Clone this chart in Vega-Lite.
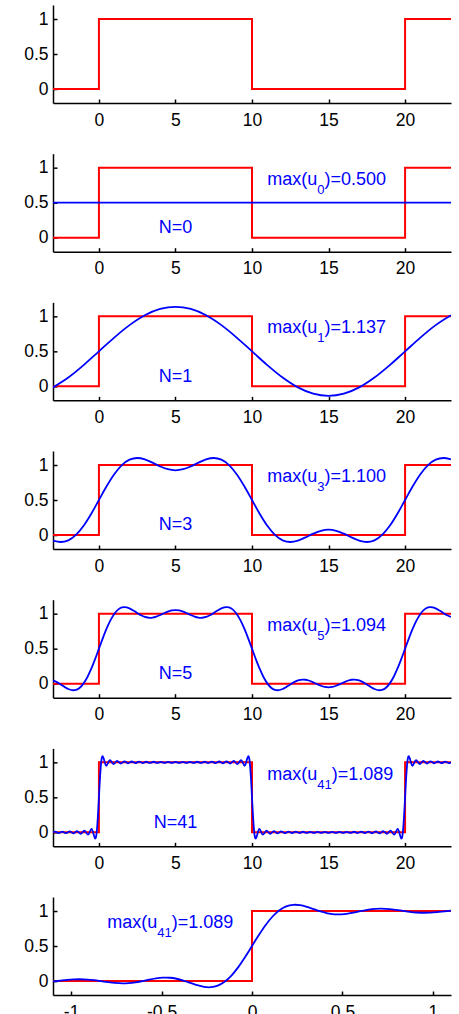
{
 "$schema": "https://vega.github.io/schema/vega-lite/v6.json",
 "padding": {"left": 23, "top": 5, "right": 5, "bottom": 0},
 "background": "white",
 "spacing": 50.67,
 "bounds": "flush",
 "resolve": {"scale": {"x": "independent", "y": "independent"}, "axis": {"x": "independent", "y": "independent"}},
 "config": {
  "view": {"stroke": null},
  "axis": {"grid": false, "title": null, "domainColor": "black", "domainWidth": 1.5, "tickColor": "black", "tickWidth": 1.5, "tickSize": -4, "labelColor": "black", "labelFont": "Liberation Sans", "labelFontSize": 17.5, "labelFlush": false, "labelOverlap": false, "labelBound": false},
  "axisX": {"labelPadding": 12},
  "axisY": {"labelPadding": 9},
  "text": {"font": "Liberation Sans", "color": "#0000ff"}
 },
 "datasets": {
  "sq": [{"x":-3,"y":0,"i":0},{"x":0,"y":0,"i":1},{"x":0,"y":1,"i":2},{"x":10,"y":1,"i":3},{"x":10,"y":0,"i":4},{"x":20,"y":0,"i":5},{"x":20,"y":1,"i":6},{"x":23,"y":1,"i":7}],
  "sqz": [{"x":-1.1,"y":0,"i":0},{"x":0,"y":0,"i":1},{"x":0,"y":1,"i":2},{"x":1.1,"y":1,"i":3}],
  "u0": [{"x":-3,"y":0.5},{"x":23,"y":0.5}],
  "u1": [{"x":-3,"y":-0.0150},{"x":-2,"y":0.1258},{"x":-1,"y":0.3033},{"x":0,"y":0.5},{"x":1,"y":0.6967},{"x":2,"y":0.8742},{"x":3,"y":1.0150},{"x":4,"y":1.1055},{"x":5,"y":1.1366},{"x":6,"y":1.1055},{"x":7,"y":1.0150},{"x":8,"y":0.8742},{"x":9,"y":0.6967},{"x":10,"y":0.5},{"x":11,"y":0.3033},{"x":12,"y":0.1258},{"x":13,"y":-0.0150},{"x":14,"y":-0.1055},{"x":15,"y":-0.1366},{"x":16,"y":-0.1055},{"x":17,"y":-0.0150},{"x":18,"y":0.1258},{"x":19,"y":0.3033},{"x":20,"y":0.5},{"x":21,"y":0.6967},{"x":22,"y":0.8742},{"x":23,"y":1.0150}],
  "u3": [{"x":-3,"y":-0.0806},{"x":-2.5,"y":-0.1002},{"x":-2,"y":-0.0760},{"x":-1.5,"y":0.0014},{"x":-1,"y":0.1316},{"x":-0.5,"y":0.3041},{"x":0,"y":0.5},{"x":0.5,"y":0.6959},{"x":1,"y":0.8684},{"x":1.5,"y":0.9986},{"x":2,"y":1.0760},{"x":2.5,"y":1.1002},{"x":3,"y":1.0806},{"x":3.5,"y":1.0340},{"x":4,"y":0.9807},{"x":4.5,"y":0.9397},{"x":5,"y":0.9244},{"x":5.5,"y":0.9397},{"x":6,"y":0.9807},{"x":6.5,"y":1.0340},{"x":7,"y":1.0806},{"x":7.5,"y":1.1002},{"x":8,"y":1.0760},{"x":8.5,"y":0.9986},{"x":9,"y":0.8684},{"x":9.5,"y":0.6959},{"x":10,"y":0.5},{"x":10.5,"y":0.3041},{"x":11,"y":0.1316},{"x":11.5,"y":0.0014},{"x":12,"y":-0.0760},{"x":12.5,"y":-0.1002},{"x":13,"y":-0.0806},{"x":13.5,"y":-0.0340},{"x":14,"y":0.0193},{"x":14.5,"y":0.0603},{"x":15,"y":0.0756},{"x":15.5,"y":0.0603},{"x":16,"y":0.0193},{"x":16.5,"y":-0.0340},{"x":17,"y":-0.0806},{"x":17.5,"y":-0.1002},{"x":18,"y":-0.0760},{"x":18.5,"y":0.0014},{"x":19,"y":0.1316},{"x":19.5,"y":0.3041},{"x":20,"y":0.5},{"x":20.5,"y":0.6959},{"x":21,"y":0.8684},{"x":21.5,"y":0.9986},{"x":22,"y":1.0760},{"x":22.5,"y":1.1002},{"x":23,"y":1.0806}],
  "u5": [{"x":-3,"y":0.0467},{"x":-2.75,"y":0.0227},{"x":-2.5,"y":-0.0102},{"x":-2.25,"y":-0.0457},{"x":-2,"y":-0.0760},{"x":-1.6667,"y":-0.0942},{"x":-1.5,"y":-0.0886},{"x":-1.25,"y":-0.0573},{"x":-1,"y":0.0043},{"x":-0.75,"y":0.0959},{"x":-0.5,"y":0.2140},{"x":-0.25,"y":0.3518},{"x":0,"y":0.5},{"x":0.25,"y":0.6482},{"x":0.5,"y":0.7860},{"x":0.75,"y":0.9041},{"x":1,"y":0.9957},{"x":1.25,"y":1.0573},{"x":1.5,"y":1.0886},{"x":1.6667,"y":1.0942},{"x":2,"y":1.0760},{"x":2.25,"y":1.0457},{"x":2.5,"y":1.0102},{"x":2.75,"y":0.9773},{"x":3,"y":0.9533},{"x":3.3333,"y":0.9411},{"x":3.5,"y":0.9440},{"x":3.75,"y":0.9582},{"x":4,"y":0.9807},{"x":4.25,"y":1.0064},{"x":4.5,"y":1.0297},{"x":4.75,"y":1.0460},{"x":5,"y":1.0517},{"x":5.25,"y":1.0460},{"x":5.5,"y":1.0297},{"x":5.75,"y":1.0064},{"x":6,"y":0.9807},{"x":6.25,"y":0.9582},{"x":6.5,"y":0.9440},{"x":6.6667,"y":0.9411},{"x":7,"y":0.9533},{"x":7.25,"y":0.9773},{"x":7.5,"y":1.0102},{"x":7.75,"y":1.0457},{"x":8,"y":1.0760},{"x":8.3333,"y":1.0942},{"x":8.5,"y":1.0886},{"x":8.75,"y":1.0573},{"x":9,"y":0.9957},{"x":9.25,"y":0.9041},{"x":9.5,"y":0.7860},{"x":9.75,"y":0.6482},{"x":10,"y":0.5},{"x":10.25,"y":0.3518},{"x":10.5,"y":0.2140},{"x":10.75,"y":0.0959},{"x":11,"y":0.0043},{"x":11.25,"y":-0.0573},{"x":11.5,"y":-0.0886},{"x":11.6667,"y":-0.0942},{"x":12,"y":-0.0760},{"x":12.25,"y":-0.0457},{"x":12.5,"y":-0.0102},{"x":12.75,"y":0.0227},{"x":13,"y":0.0467},{"x":13.3333,"y":0.0589},{"x":13.5,"y":0.0560},{"x":13.75,"y":0.0418},{"x":14,"y":0.0193},{"x":14.25,"y":-0.0064},{"x":14.5,"y":-0.0297},{"x":14.75,"y":-0.0460},{"x":15,"y":-0.0517},{"x":15.25,"y":-0.0460},{"x":15.5,"y":-0.0297},{"x":15.75,"y":-0.0064},{"x":16,"y":0.0193},{"x":16.25,"y":0.0418},{"x":16.5,"y":0.0560},{"x":16.6667,"y":0.0589},{"x":17,"y":0.0467},{"x":17.25,"y":0.0227},{"x":17.5,"y":-0.0102},{"x":17.75,"y":-0.0457},{"x":18,"y":-0.0760},{"x":18.3333,"y":-0.0942},{"x":18.5,"y":-0.0886},{"x":18.75,"y":-0.0573},{"x":19,"y":0.0043},{"x":19.25,"y":0.0959},{"x":19.5,"y":0.2140},{"x":19.75,"y":0.3518},{"x":20,"y":0.5},{"x":20.25,"y":0.6482},{"x":20.5,"y":0.7860},{"x":20.75,"y":0.9041},{"x":21,"y":0.9957},{"x":21.25,"y":1.0573},{"x":21.5,"y":1.0886},{"x":21.6667,"y":1.0942},{"x":22,"y":1.0760},{"x":22.25,"y":1.0457},{"x":22.5,"y":1.0102},{"x":22.75,"y":0.9773},{"x":23,"y":0.9533}],
  "u41": [{"x":-3.0952,"y":-0.0092},{"x":-2.8571,"y":0.0097},{"x":-2.6190,"y":-0.0103},{"x":-2.3810,"y":0.0111},{"x":-2.1429,"y":-0.0122},{"x":-1.9048,"y":0.0134},{"x":-1.6667,"y":-0.0152},{"x":-1.4286,"y":0.0168},{"x":-1.1905,"y":-0.0201},{"x":-0.9524,"y":0.0250},{"x":-0.7143,"y":-0.0331},{"x":-0.4762,"y":0.0486},{"x":-0.2381,"y":-0.0895},{"x":-0.1895,"y":-0.0661},{"x":-0.1516,"y":-0.0110},{"x":-0.1137,"y":0.0783},{"x":-0.0758,"y":0.1988},{"x":-0.0379,"y":0.3430},{"x":0,"y":0.5},{"x":0.0379,"y":0.6570},{"x":0.0758,"y":0.8012},{"x":0.1137,"y":0.9217},{"x":0.1516,"y":1.0110},{"x":0.1895,"y":1.0661},{"x":0.2381,"y":1.0895},{"x":0.4762,"y":0.9514},{"x":0.7143,"y":1.0331},{"x":0.9524,"y":0.9750},{"x":1.1905,"y":1.0201},{"x":1.4286,"y":0.9832},{"x":1.6667,"y":1.0152},{"x":1.9048,"y":0.9866},{"x":2.1429,"y":1.0122},{"x":2.3810,"y":0.9889},{"x":2.6190,"y":1.0103},{"x":2.8571,"y":0.9903},{"x":3.0952,"y":1.0092},{"x":3.3333,"y":0.9913},{"x":3.5714,"y":1.0084},{"x":3.8095,"y":0.9919},{"x":4.0476,"y":1.0079},{"x":4.2857,"y":0.9922},{"x":4.5238,"y":1.0077},{"x":4.7619,"y":0.9924},{"x":5.0,"y":1.0076},{"x":5.2381,"y":0.9924},{"x":5.4762,"y":1.0077},{"x":5.7143,"y":0.9922},{"x":5.9524,"y":1.0079},{"x":6.1905,"y":0.9919},{"x":6.4286,"y":1.0084},{"x":6.6667,"y":0.9913},{"x":6.9048,"y":1.0092},{"x":7.1429,"y":0.9903},{"x":7.3810,"y":1.0103},{"x":7.6190,"y":0.9889},{"x":7.8571,"y":1.0122},{"x":8.0952,"y":0.9866},{"x":8.3333,"y":1.0152},{"x":8.5714,"y":0.9832},{"x":8.8095,"y":1.0201},{"x":9.0476,"y":0.9750},{"x":9.2857,"y":1.0331},{"x":9.5238,"y":0.9514},{"x":9.7619,"y":1.0895},{"x":9.8105,"y":1.0661},{"x":9.8484,"y":1.0110},{"x":9.8863,"y":0.9217},{"x":9.9242,"y":0.8012},{"x":9.9621,"y":0.6570},{"x":10,"y":0.5},{"x":10.0379,"y":0.3430},{"x":10.0758,"y":0.1988},{"x":10.1137,"y":0.0783},{"x":10.1516,"y":-0.0110},{"x":10.1895,"y":-0.0661},{"x":10.2381,"y":-0.0895},{"x":10.4762,"y":0.0486},{"x":10.7143,"y":-0.0331},{"x":10.9524,"y":0.0250},{"x":11.1905,"y":-0.0201},{"x":11.4286,"y":0.0168},{"x":11.6667,"y":-0.0152},{"x":11.9048,"y":0.0134},{"x":12.1429,"y":-0.0122},{"x":12.3810,"y":0.0111},{"x":12.6190,"y":-0.0103},{"x":12.8571,"y":0.0097},{"x":13.0952,"y":-0.0092},{"x":13.3333,"y":0.0087},{"x":13.5714,"y":-0.0084},{"x":13.8095,"y":0.0081},{"x":14.0476,"y":-0.0079},{"x":14.2857,"y":0.0078},{"x":14.5238,"y":-0.0077},{"x":14.7619,"y":0.0076},{"x":15.0,"y":-0.0076},{"x":15.2381,"y":0.0076},{"x":15.4762,"y":-0.0077},{"x":15.7143,"y":0.0078},{"x":15.9524,"y":-0.0079},{"x":16.1905,"y":0.0081},{"x":16.4286,"y":-0.0084},{"x":16.6667,"y":0.0087},{"x":16.9048,"y":-0.0092},{"x":17.1429,"y":0.0097},{"x":17.3810,"y":-0.0103},{"x":17.6190,"y":0.0111},{"x":17.8571,"y":-0.0122},{"x":18.0952,"y":0.0134},{"x":18.3333,"y":-0.0152},{"x":18.5714,"y":0.0168},{"x":18.8095,"y":-0.0201},{"x":19.0476,"y":0.0250},{"x":19.2857,"y":-0.0331},{"x":19.5238,"y":0.0486},{"x":19.7619,"y":-0.0895},{"x":19.8105,"y":-0.0661},{"x":19.8484,"y":-0.0110},{"x":19.8863,"y":0.0783},{"x":19.9242,"y":0.1988},{"x":19.9621,"y":0.3430},{"x":20,"y":0.5},{"x":20.0379,"y":0.6570},{"x":20.0758,"y":0.8012},{"x":20.1137,"y":0.9217},{"x":20.1516,"y":1.0110},{"x":20.1895,"y":1.0661},{"x":20.2381,"y":1.0895},{"x":20.4762,"y":0.9514},{"x":20.7143,"y":1.0331},{"x":20.9524,"y":0.9750},{"x":21.1905,"y":1.0201},{"x":21.4286,"y":0.9832},{"x":21.6667,"y":1.0152},{"x":21.9048,"y":0.9866},{"x":22.1429,"y":1.0122},{"x":22.3810,"y":0.9889},{"x":22.6190,"y":1.0103},{"x":22.8571,"y":0.9903},{"x":23.0952,"y":1.0092}],
  "u41z": [{"x":-1.1368,"y":-0.0151},{"x":-1.0989,"y":-0.0063},{"x":-1.0610,"y":0.0046},{"x":-1.0231,"y":0.0152},{"x":-0.9852,"y":0.0227},{"x":-0.9524,"y":0.0250},{"x":-0.9094,"y":0.0209},{"x":-0.8716,"y":0.0114},{"x":-0.8337,"y":-0.0024},{"x":-0.7958,"y":-0.0166},{"x":-0.7579,"y":-0.0279},{"x":-0.7143,"y":-0.0331},{"x":-0.6821,"y":-0.0300},{"x":-0.6442,"y":-0.0187},{"x":-0.6063,"y":-0.0011},{"x":-0.5684,"y":0.0190},{"x":-0.5305,"y":0.0370},{"x":-0.4926,"y":0.0474},{"x":-0.4762,"y":0.0486},{"x":-0.4547,"y":0.0465},{"x":-0.4168,"y":0.0325},{"x":-0.3789,"y":0.0066},{"x":-0.3410,"y":-0.0265},{"x":-0.3032,"y":-0.0597},{"x":-0.2653,"y":-0.0835},{"x":-0.2381,"y":-0.0895},{"x":-0.2274,"y":-0.0884},{"x":-0.1895,"y":-0.0661},{"x":-0.1516,"y":-0.0110},{"x":-0.1137,"y":0.0783},{"x":-0.0758,"y":0.1988},{"x":-0.0379,"y":0.3430},{"x":0,"y":0.5},{"x":0.0379,"y":0.6570},{"x":0.0758,"y":0.8012},{"x":0.1137,"y":0.9217},{"x":0.1516,"y":1.0110},{"x":0.1895,"y":1.0661},{"x":0.2274,"y":1.0884},{"x":0.2381,"y":1.0895},{"x":0.2653,"y":1.0835},{"x":0.3032,"y":1.0597},{"x":0.3410,"y":1.0265},{"x":0.3789,"y":0.9934},{"x":0.4168,"y":0.9675},{"x":0.4547,"y":0.9535},{"x":0.4762,"y":0.9514},{"x":0.4926,"y":0.9526},{"x":0.5305,"y":0.9630},{"x":0.5684,"y":0.9810},{"x":0.6063,"y":1.0011},{"x":0.6442,"y":1.0187},{"x":0.6821,"y":1.0300},{"x":0.7143,"y":1.0331},{"x":0.7579,"y":1.0279},{"x":0.7958,"y":1.0166},{"x":0.8337,"y":1.0024},{"x":0.8716,"y":0.9886},{"x":0.9094,"y":0.9791},{"x":0.9524,"y":0.9750},{"x":0.9852,"y":0.9773},{"x":1.0231,"y":0.9848},{"x":1.0610,"y":0.9954},{"x":1.0989,"y":1.0063},{"x":1.1368,"y":1.0151}],
  "ann": [{"p":2,"x":11,"y":0.755,"pre":"max(u","sub":"0","post":")=0.500"},{"p":3,"x":11,"y":0.755,"pre":"max(u","sub":"1","post":")=1.137"},{"p":4,"x":11,"y":0.755,"pre":"max(u","sub":"3","post":")=1.100"},{"p":5,"x":11,"y":0.755,"pre":"max(u","sub":"5","post":")=1.094"},{"p":6,"x":11,"y":0.755,"pre":"max(u","sub":"41","post":")=1.089"},{"p":7,"x":-0.8,"y":0.755,"pre":"max(u","sub":"41","post":")=1.089"}],
  "nlab": [{"p":2,"x":5,"y":0.065,"t":"N=0"},{"p":3,"x":5,"y":0.065,"t":"N=1"},{"p":4,"x":5,"y":0.065,"t":"N=3"},{"p":5,"x":5,"y":0.065,"t":"N=5"},{"p":6,"x":5,"y":0.065,"t":"N=41"}]
 },
 "vconcat": [
  {"width": 398, "height": 98,
   "encoding": {"x": {"field":"x","type":"quantitative","scale":{"domain":[-3,23],"nice":false,"zero":false},"axis":{"values":[0,5,10,15,20],"labelExpr":"toString(datum.value)"}},
                "y": {"field":"y","type":"quantitative","scale":{"domain":[-0.2,1.2],"nice":false,"zero":false},"axis":{"values":[0,0.5,1],"labelExpr":"toString(datum.value)"}}},
   "layer": [
    {"data":{"name":"sq"},"mark":{"type":"line","color":"#ff0000","strokeWidth":2,"clip":true},"encoding":{"order":{"field":"i","type":"quantitative"}}}
   ]},
  {"width": 398, "height": 98,
   "encoding": {"x": {"field":"x","type":"quantitative","scale":{"domain":[-3,23],"nice":false,"zero":false},"axis":{"values":[0,5,10,15,20],"labelExpr":"toString(datum.value)"}},
                "y": {"field":"y","type":"quantitative","scale":{"domain":[-0.2,1.2],"nice":false,"zero":false},"axis":{"values":[0,0.5,1],"labelExpr":"toString(datum.value)"}}},
   "layer": [
    {"data":{"name":"sq"},"mark":{"type":"line","color":"#ff0000","strokeWidth":2,"clip":true},"encoding":{"order":{"field":"i","type":"quantitative"}}},
    {"data":{"name":"u0"},"mark":{"type":"line","color":"#0000ff","strokeWidth":1.8,"clip":true}},
    {"data":{"name":"ann"},"transform":[{"filter":"datum.p==2"}],"mark":{"type":"text","align":"left","baseline":"alphabetic","fontSize":18},"encoding":{"text":{"field":"pre"}}},
    {"data":{"name":"ann"},"transform":[{"filter":"datum.p==2"}],"mark":{"type":"text","align":"left","baseline":"alphabetic","fontSize":13,"dx":50,"dy":9},"encoding":{"text":{"field":"sub"}}},
    {"data":{"name":"ann"},"transform":[{"filter":"datum.p==2"}],"mark":{"type":"text","align":"left","baseline":"alphabetic","fontSize":18,"dx":57.2},"encoding":{"text":{"field":"post"}}},
    {"data":{"name":"nlab"},"transform":[{"filter":"datum.p==2"}],"mark":{"type":"text","align":"center","baseline":"alphabetic","fontSize":18},"encoding":{"text":{"field":"t"}}}
   ]},
  {"width": 398, "height": 98,
   "encoding": {"x": {"field":"x","type":"quantitative","scale":{"domain":[-3,23],"nice":false,"zero":false},"axis":{"values":[0,5,10,15,20],"labelExpr":"toString(datum.value)"}},
                "y": {"field":"y","type":"quantitative","scale":{"domain":[-0.2,1.2],"nice":false,"zero":false},"axis":{"values":[0,0.5,1],"labelExpr":"toString(datum.value)"}}},
   "layer": [
    {"data":{"name":"sq"},"mark":{"type":"line","color":"#ff0000","strokeWidth":2,"clip":true},"encoding":{"order":{"field":"i","type":"quantitative"}}},
    {"data":{"name":"u1"},"mark":{"type":"line","color":"#0000ff","strokeWidth":1.8,"clip":true,"interpolate":"monotone"}},
    {"data":{"name":"ann"},"transform":[{"filter":"datum.p==3"}],"mark":{"type":"text","align":"left","baseline":"alphabetic","fontSize":18},"encoding":{"text":{"field":"pre"}}},
    {"data":{"name":"ann"},"transform":[{"filter":"datum.p==3"}],"mark":{"type":"text","align":"left","baseline":"alphabetic","fontSize":13,"dx":50,"dy":9},"encoding":{"text":{"field":"sub"}}},
    {"data":{"name":"ann"},"transform":[{"filter":"datum.p==3"}],"mark":{"type":"text","align":"left","baseline":"alphabetic","fontSize":18,"dx":57.2},"encoding":{"text":{"field":"post"}}},
    {"data":{"name":"nlab"},"transform":[{"filter":"datum.p==3"}],"mark":{"type":"text","align":"center","baseline":"alphabetic","fontSize":18},"encoding":{"text":{"field":"t"}}}
   ]},
  {"width": 398, "height": 98,
   "encoding": {"x": {"field":"x","type":"quantitative","scale":{"domain":[-3,23],"nice":false,"zero":false},"axis":{"values":[0,5,10,15,20],"labelExpr":"toString(datum.value)"}},
                "y": {"field":"y","type":"quantitative","scale":{"domain":[-0.2,1.2],"nice":false,"zero":false},"axis":{"values":[0,0.5,1],"labelExpr":"toString(datum.value)"}}},
   "layer": [
    {"data":{"name":"sq"},"mark":{"type":"line","color":"#ff0000","strokeWidth":2,"clip":true},"encoding":{"order":{"field":"i","type":"quantitative"}}},
    {"data":{"name":"u3"},"mark":{"type":"line","color":"#0000ff","strokeWidth":1.8,"clip":true,"interpolate":"monotone"}},
    {"data":{"name":"ann"},"transform":[{"filter":"datum.p==4"}],"mark":{"type":"text","align":"left","baseline":"alphabetic","fontSize":18},"encoding":{"text":{"field":"pre"}}},
    {"data":{"name":"ann"},"transform":[{"filter":"datum.p==4"}],"mark":{"type":"text","align":"left","baseline":"alphabetic","fontSize":13,"dx":50,"dy":9},"encoding":{"text":{"field":"sub"}}},
    {"data":{"name":"ann"},"transform":[{"filter":"datum.p==4"}],"mark":{"type":"text","align":"left","baseline":"alphabetic","fontSize":18,"dx":57.2},"encoding":{"text":{"field":"post"}}},
    {"data":{"name":"nlab"},"transform":[{"filter":"datum.p==4"}],"mark":{"type":"text","align":"center","baseline":"alphabetic","fontSize":18},"encoding":{"text":{"field":"t"}}}
   ]},
  {"width": 398, "height": 98,
   "encoding": {"x": {"field":"x","type":"quantitative","scale":{"domain":[-3,23],"nice":false,"zero":false},"axis":{"values":[0,5,10,15,20],"labelExpr":"toString(datum.value)"}},
                "y": {"field":"y","type":"quantitative","scale":{"domain":[-0.2,1.2],"nice":false,"zero":false},"axis":{"values":[0,0.5,1],"labelExpr":"toString(datum.value)"}}},
   "layer": [
    {"data":{"name":"sq"},"mark":{"type":"line","color":"#ff0000","strokeWidth":2,"clip":true},"encoding":{"order":{"field":"i","type":"quantitative"}}},
    {"data":{"name":"u5"},"mark":{"type":"line","color":"#0000ff","strokeWidth":1.8,"clip":true,"interpolate":"monotone"}},
    {"data":{"name":"ann"},"transform":[{"filter":"datum.p==5"}],"mark":{"type":"text","align":"left","baseline":"alphabetic","fontSize":18},"encoding":{"text":{"field":"pre"}}},
    {"data":{"name":"ann"},"transform":[{"filter":"datum.p==5"}],"mark":{"type":"text","align":"left","baseline":"alphabetic","fontSize":13,"dx":50,"dy":9},"encoding":{"text":{"field":"sub"}}},
    {"data":{"name":"ann"},"transform":[{"filter":"datum.p==5"}],"mark":{"type":"text","align":"left","baseline":"alphabetic","fontSize":18,"dx":57.2},"encoding":{"text":{"field":"post"}}},
    {"data":{"name":"nlab"},"transform":[{"filter":"datum.p==5"}],"mark":{"type":"text","align":"center","baseline":"alphabetic","fontSize":18},"encoding":{"text":{"field":"t"}}}
   ]},
  {"width": 398, "height": 98,
   "encoding": {"x": {"field":"x","type":"quantitative","scale":{"domain":[-3,23],"nice":false,"zero":false},"axis":{"values":[0,5,10,15,20],"labelExpr":"toString(datum.value)"}},
                "y": {"field":"y","type":"quantitative","scale":{"domain":[-0.2,1.2],"nice":false,"zero":false},"axis":{"values":[0,0.5,1],"labelExpr":"toString(datum.value)"}}},
   "layer": [
    {"data":{"name":"sq"},"mark":{"type":"line","color":"#ff0000","strokeWidth":2,"clip":true},"encoding":{"order":{"field":"i","type":"quantitative"}}},
    {"data":{"name":"u41"},"mark":{"type":"line","color":"#0000ff","strokeWidth":1.8,"clip":true,"interpolate":"monotone"}},
    {"data":{"name":"ann"},"transform":[{"filter":"datum.p==6"}],"mark":{"type":"text","align":"left","baseline":"alphabetic","fontSize":18},"encoding":{"text":{"field":"pre"}}},
    {"data":{"name":"ann"},"transform":[{"filter":"datum.p==6"}],"mark":{"type":"text","align":"left","baseline":"alphabetic","fontSize":13,"dx":50,"dy":9},"encoding":{"text":{"field":"sub"}}},
    {"data":{"name":"ann"},"transform":[{"filter":"datum.p==6"}],"mark":{"type":"text","align":"left","baseline":"alphabetic","fontSize":18,"dx":64.5},"encoding":{"text":{"field":"post"}}},
    {"data":{"name":"nlab"},"transform":[{"filter":"datum.p==6"}],"mark":{"type":"text","align":"center","baseline":"alphabetic","fontSize":18},"encoding":{"text":{"field":"t"}}}
   ]},
  {"width": 398, "height": 98,
   "encoding": {"x": {"field":"x","type":"quantitative","scale":{"domain":[-1.1,1.1],"nice":false,"zero":false},"axis":{"values":[-1,-0.5,0,0.5,1],"labelExpr":"toString(datum.value)"}},
                "y": {"field":"y","type":"quantitative","scale":{"domain":[-0.2,1.2],"nice":false,"zero":false},"axis":{"values":[0,0.5,1],"labelExpr":"toString(datum.value)"}}},
   "layer": [
    {"data":{"name":"sqz"},"mark":{"type":"line","color":"#ff0000","strokeWidth":2,"clip":true},"encoding":{"order":{"field":"i","type":"quantitative"}}},
    {"data":{"name":"u41z"},"mark":{"type":"line","color":"#0000ff","strokeWidth":1.8,"clip":true,"interpolate":"monotone"}},
    {"data":{"name":"ann"},"transform":[{"filter":"datum.p==7"}],"mark":{"type":"text","align":"left","baseline":"alphabetic","fontSize":18},"encoding":{"text":{"field":"pre"}}},
    {"data":{"name":"ann"},"transform":[{"filter":"datum.p==7"}],"mark":{"type":"text","align":"left","baseline":"alphabetic","fontSize":13,"dx":50,"dy":9},"encoding":{"text":{"field":"sub"}}},
    {"data":{"name":"ann"},"transform":[{"filter":"datum.p==7"}],"mark":{"type":"text","align":"left","baseline":"alphabetic","fontSize":18,"dx":64.5},"encoding":{"text":{"field":"post"}}}
   ]}
 ]
}
